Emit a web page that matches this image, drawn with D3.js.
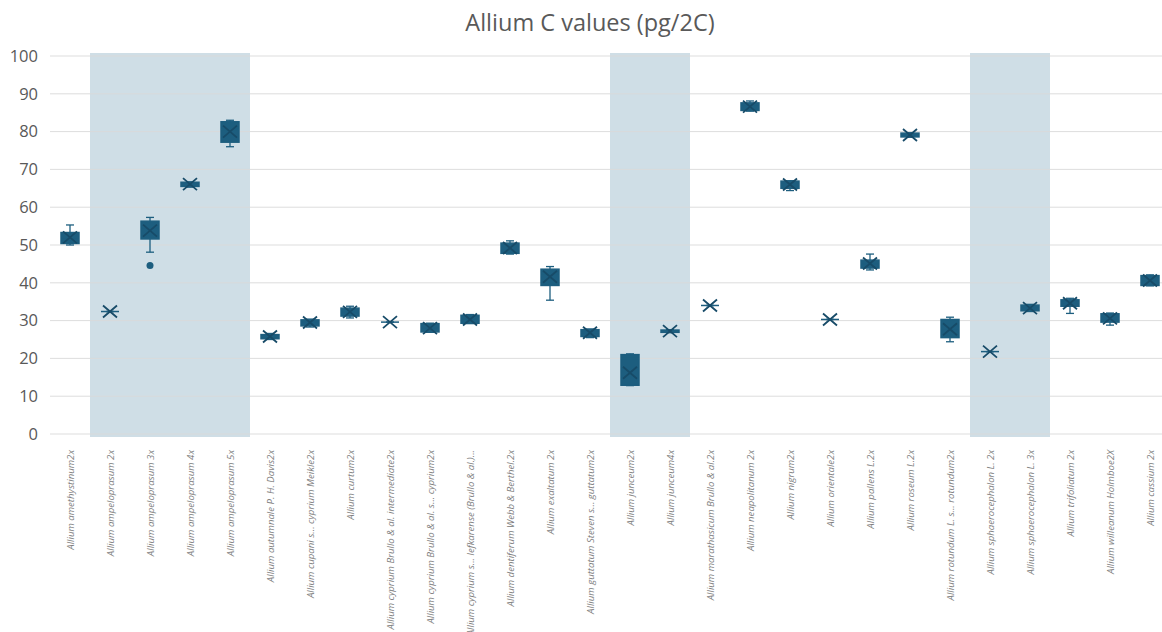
<!DOCTYPE html>
<html>
<head>
<meta charset="utf-8">
<script src="https://cdn.jsdelivr.net/npm/d3@7"></script>
<style>
  html, body { margin: 0; padding: 0; background: #ffffff; }
  svg { display: block; }
</style>
</head>
<body>
<svg id="chart" width="1162" height="632"></svg>
<script>
const categories = [
  "Allium amethystinum2x",
  "Allium ampeloprasum 2x",
  "Allium ampeloprasum 3x",
  "Allium ampeloprasum 4x",
  "Allium ampeloprasum 5x",
  "Allium autumnale P. H. Davis2x",
  "Allium cupani s... cyprium Meikle2x",
  "Allium curtum2x",
  "Allium cyprium Brullo & al. intermediate2x",
  "Allium cyprium Brullo & al. s... cyprium2x",
  "Allium cyprium s... lefkarense (Brullo & al.)...",
  "Allium dentiferum Webb & Berthel.2x",
  "Allium exaltatum  2x",
  "Allium guttatum Steven s... guttatum2x",
  "Allium junceum2x",
  "Allium junceum4x",
  "Allium marathasicum  Brullo & al.2x",
  "Allium neapolitanum  2x",
  "Allium nigrum2x",
  "Allium orientale2x",
  "Allium pallens L.2x",
  "Allium roseum L.2x",
  "Allium rotundum L. s... rotundum2x",
  "Allium sphaerocephalon L. 2x",
  "Allium sphaerocephalon L. 3x",
  "Allium trifoliatum  2x",
  "Allium willeanum Holmboe2X",
  "Allium cassium  2x"
];

const mins    = [50.0, 32.4, 48.1, 65.3, 76.0, 25.0, 28.3, 30.7, 29.6, 26.9, 29.2, 47.6, 35.4, 25.5, 12.8, 26.8, 34.0, 85.4, 64.4, 30.3, 43.4, 78.5, 24.4, 21.8, 32.4, 31.9, 28.8, 39.2];
const q1s     = [50.4, 32.4, 51.6, 65.5, 77.2, 25.2, 28.6, 31.2, 29.6, 27.0, 29.3, 47.8, 39.3, 25.8, 12.9, 26.9, 34.0, 85.6, 65.0, 30.3, 43.9, 78.6, 25.5, 21.8, 32.6, 33.8, 29.6, 39.3];
const medians = [51.5, 32.4, 54.5, 66.0, 80.5, 25.8, 29.6, 32.3, 29.6, 28.0, 30.4, 49.0, 42.0, 26.9, 20.0, 27.1, 34.0, 86.7, 66.0, 30.3, 45.0, 79.1, 27.5, 21.8, 33.3, 34.8, 30.6, 40.5];
const q3s     = [53.3, 32.4, 56.3, 66.6, 82.6, 26.3, 30.2, 33.3, 29.6, 29.2, 31.4, 50.5, 43.6, 27.6, 21.0, 27.5, 34.0, 87.6, 66.9, 30.3, 46.0, 79.6, 30.3, 21.8, 34.1, 35.5, 31.8, 41.9];
const maxs    = [55.3, 32.4, 57.3, 66.7, 83.0, 26.6, 30.4, 33.8, 29.6, 29.3, 31.6, 51.1, 44.3, 27.8, 21.2, 27.6, 34.0, 88.1, 67.0, 30.3, 47.6, 79.7, 30.9, 21.8, 34.3, 35.9, 32.0, 42.1];
const means   = [52.0, 32.4, 53.8, 66.1, 80.0, 25.8, 29.5, 32.3, 29.6, 28.0, 30.3, 49.2, 41.6, 26.8, 16.2, 27.2, 34.0, 86.6, 66.0, 30.3, 45.1, 79.1, 27.7, 21.8, 33.3, 34.6, 30.6, 40.6];
const outlierCats = ["Allium ampeloprasum 3x"];
const outlierVals = [44.6];

const highlightGroups = [
  ["Allium ampeloprasum 2x", "Allium ampeloprasum 5x"],
  ["Allium junceum2x", "Allium junceum4x"],
  ["Allium sphaerocephalon L. 2x", "Allium sphaerocephalon L. 3x"]
];

const yTicks = [0, 10, 20, 30, 40, 50, 60, 70, 80, 90, 100];
const chartTitle = "Allium C values (pg/2C)";

const rows = categories.map((c, i) => ({
  cat: c, min: mins[i], q1: q1s[i], med: medians[i], q3: q3s[i], max: maxs[i], mean: means[i]
}));

const svg = d3.select("#chart");
const plotLeft = 50, plotRight = 1170, plotTop = 56, plotBottom = 434;

const x = d3.scaleBand().domain(categories).range([plotLeft, plotRight]).padding(0);
const y = d3.scaleLinear().domain([0, 100]).range([plotBottom, plotTop]);
const cx = c => x(c) + x.bandwidth() / 2;

const boxColor = "#1d5e7f";
const markColor = "#174b68";
const textColor = "#595959";

// highlight bands
svg.append("g").selectAll("rect").data(highlightGroups).join("rect")
  .attr("x", d => x(d[0]))
  .attr("width", d => x(d[1]) + x.bandwidth() - x(d[0]))
  .attr("y", y(100) - 3)
  .attr("height", y(0) - y(100) + 6)
  .attr("fill", "#cfdee6");

// gridlines
svg.append("g").selectAll("line").data(yTicks).join("line")
  .attr("x1", plotLeft).attr("x2", plotRight)
  .attr("y1", d => y(d)).attr("y2", d => y(d))
  .attr("stroke", "#d9d9d9").attr("stroke-width", 1)
  .attr("stroke-opacity", 0.9);

// y axis labels
const yAxis = d3.axisLeft(y).tickValues(yTicks).tickSize(0).tickPadding(12);
const yg = svg.append("g").attr("transform", `translate(${plotLeft},0)`).call(yAxis);
yg.select(".domain").remove();
yg.selectAll("text")
  .attr("fill", textColor)
  .style("font-family", "'Open Sans', sans-serif")
  .style("font-size", "16.5px");

// x axis labels
const xAxis = d3.axisBottom(x).tickSize(0).tickPadding(0);
const xg = svg.append("g").attr("transform", `translate(0,${plotBottom})`).call(xAxis);
xg.select(".domain").remove();
xg.selectAll(".tick text")
  .attr("transform", "rotate(-90)")
  .attr("x", -16).attr("y", 1).attr("dy", "0.35em")
  .attr("text-anchor", "end")
  .attr("fill", "#808080")
  .style("font-family", "'Open Sans', sans-serif")
  .style("font-style", "italic")
  .style("font-size", "9.6px");

// boxes
const bw = 18;
const g = svg.append("g");
const box = g.selectAll("g.box").data(rows).join("g").attr("class", "box");

// whiskers
box.append("line")
  .attr("x1", d => cx(d.cat)).attr("x2", d => cx(d.cat))
  .attr("y1", d => y(d.max)).attr("y2", d => y(d.q3))
  .attr("stroke", boxColor).attr("stroke-width", 1.3);
box.append("line")
  .attr("x1", d => cx(d.cat)).attr("x2", d => cx(d.cat))
  .attr("y1", d => y(d.q1)).attr("y2", d => y(d.min))
  .attr("stroke", boxColor).attr("stroke-width", 1.3);
box.append("line")
  .attr("x1", d => cx(d.cat) - 4).attr("x2", d => cx(d.cat) + 4)
  .attr("y1", d => y(d.max)).attr("y2", d => y(d.max))
  .attr("stroke", boxColor).attr("stroke-width", 1.3);
box.append("line")
  .attr("x1", d => cx(d.cat) - 4).attr("x2", d => cx(d.cat) + 4)
  .attr("y1", d => y(d.min)).attr("y2", d => y(d.min))
  .attr("stroke", boxColor).attr("stroke-width", 1.3);

// box
box.append("rect")
  .attr("x", d => cx(d.cat) - bw / 2)
  .attr("width", bw)
  .attr("y", d => y(d.q3))
  .attr("height", d => y(d.q1) - y(d.q3))
  .attr("fill", boxColor)
  .attr("stroke", boxColor).attr("stroke-width", 1.5);

// median
box.append("line")
  .attr("x1", d => cx(d.cat) - bw / 2).attr("x2", d => cx(d.cat) + bw / 2)
  .attr("y1", d => y(d.med)).attr("y2", d => y(d.med))
  .attr("stroke", boxColor).attr("stroke-width", 1.5);

// mean marker (X)
const mh = 7, mv = 6;
box.append("path")
  .attr("d", d => {
    const px = cx(d.cat), py = y(d.mean);
    return `M${px - mh},${py - mv}L${px + mh},${py + mv}M${px - mh},${py + mv}L${px + mh},${py - mv}`;
  })
  .attr("fill", "none")
  .attr("stroke", markColor).attr("stroke-width", 1.8);

// outliers
g.selectAll("circle.outlier").data(outlierCats.map((c, i) => ({ cat: c, v: outlierVals[i] })))
  .join("circle").attr("class", "outlier")
  .attr("cx", d => cx(d.cat)).attr("cy", d => y(d.v))
  .attr("r", 3.5).attr("fill", boxColor);

// title
svg.append("text")
  .attr("x", 590).attr("y", 31)
  .attr("text-anchor", "middle")
  .attr("fill", textColor)
  .style("font-family", "'Open Sans', sans-serif")
  .style("font-size", "23.5px")
  .text(chartTitle);
</script>
</body>
</html>
